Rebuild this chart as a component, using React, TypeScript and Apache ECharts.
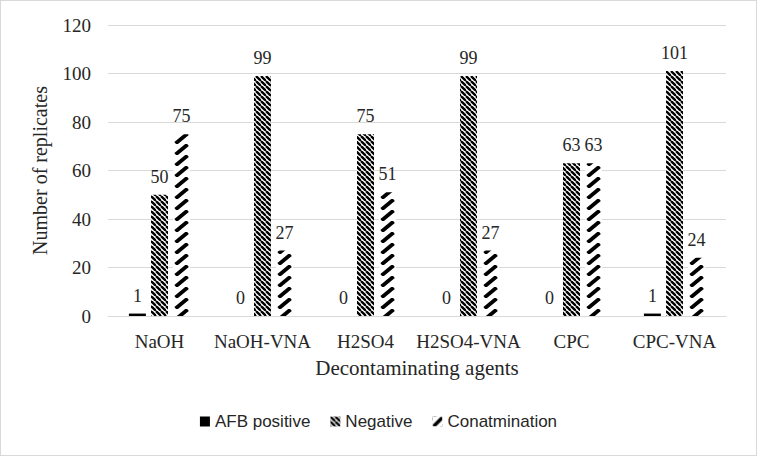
import React, { useEffect, useRef } from "react";
import * as echarts from "echarts";

const categories = ["NaOH", "NaOH-VNA", "H2SO4", "H2SO4-VNA", "CPC", "CPC-VNA"];
const afbPositive = [1, 0, 0, 0, 0, 1];
const negative = [50, 99, 75, 99, 63, 101];
const contamination = [75, 27, 51, 27, 63, 24];
const yTicks = [0, 20, 40, 60, 80, 100, 120];

const serif = "'Liberation Serif', 'Times New Roman', serif";
const sans = "'Liberation Sans', Arial, sans-serif";

const BAR_W = 17;
const BAR_GAP = 0.3;

function makeNegativeTile(): HTMLCanvasElement {
  const p = 5;
  const c = document.createElement("canvas");
  c.width = p;
  c.height = p;
  const ctx = c.getContext("2d")!;
  ctx.fillStyle = "#fff";
  ctx.fillRect(0, 0, p, p);
  ctx.strokeStyle = "#000";
  ctx.lineWidth = 2.3;
  for (let i = -1; i <= 1; i++) {
    ctx.beginPath();
    ctx.moveTo(i * p, 0);
    ctx.lineTo(i * p + p, p);
    ctx.stroke();
  }
  return c;
}

// tile as wide as one category step; the dash sits where the third bar falls
function makeContaminationTile(step: number, barLeft: number): HTMLCanvasElement {
  const w = Math.max(1, Math.round(step));
  const h = 11;
  const c = document.createElement("canvas");
  c.width = w;
  c.height = h;
  const ctx = c.getContext("2d")!;
  ctx.fillStyle = "#fff";
  ctx.fillRect(0, 0, w, h);
  ctx.strokeStyle = "#000";
  ctx.lineWidth = 3.8;
  ctx.lineCap = "butt";
  const L = ((barLeft % w) + w) % w;
  for (const shift of [-w, 0, w]) {
    ctx.beginPath();
    ctx.moveTo(L + shift + 2.5, 10.5);
    ctx.lineTo(L + shift + 14.5, 0.5);
    ctx.stroke();
  }
  return c;
}

function makeLegendContTile(): HTMLCanvasElement {
  const c = document.createElement("canvas");
  c.width = 10;
  c.height = 10;
  const ctx = c.getContext("2d")!;
  ctx.fillStyle = "#fff";
  ctx.fillRect(0, 0, 10, 10);
  ctx.strokeStyle = "#000";
  ctx.lineWidth = 3.5;
  ctx.beginPath();
  ctx.moveTo(1, 10);
  ctx.lineTo(10, 1);
  ctx.stroke();
  return c;
}

export default function App() {
  const ref = useRef<HTMLDivElement>(null);
  useEffect(() => {
    if (!ref.current) return;
    const chart = echarts.init(ref.current, undefined, { renderer: "svg" });
    const label = {
      show: true,
      position: "top" as const,
      distance: 9,
      fontFamily: serif,
      fontSize: 18,
      color: "#262626",
    };
    chart.setOption({
      animation: false,
      backgroundColor: "#fff",
      grid: { left: 107, right: 30, top: 24, bottom: 139 },
      legend: {
        bottom: 20,
        left: "center",
        icon: "rect",
        itemWidth: 10,
        itemHeight: 10,
        itemGap: 20,
        textStyle: { fontFamily: sans, fontSize: 17, color: "#262626" },
        data: ["AFB positive", "Negative", "Conatmination"],
      },
      xAxis: {
        type: "category",
        data: categories,
        name: "Decontaminating agents",
        nameLocation: "middle",
        nameGap: 41,
        nameTextStyle: { fontFamily: serif, fontSize: 21, color: "#262626" },
        axisLine: { lineStyle: { color: "#d9d9d9" } },
        axisTick: { show: false },
        axisLabel: {
          interval: 0,
          fontFamily: serif,
          fontSize: 19,
          color: "#262626",
          margin: 16,
        },
      },
      yAxis: {
        type: "value",
        min: yTicks[0],
        max: yTicks[yTicks.length - 1],
        interval: 20,
        name: "Number of replicates",
        nameLocation: "middle",
        nameGap: 58,
        nameTextStyle: { fontFamily: serif, fontSize: 20, color: "#262626" },
        axisLine: { show: false },
        axisTick: { show: false },
        splitLine: { lineStyle: { color: "#d9d9d9" } },
        axisLabel: { fontFamily: serif, fontSize: 19, color: "#262626", margin: 17 },
      },
      series: [
        {
          name: "AFB positive",
          type: "bar",
          data: afbPositive,
          barWidth: BAR_W,
          barGap: BAR_GAP * 100 + "%",
          itemStyle: { color: "#000" },
          label,
        },
        {
          name: "Negative",
          type: "bar",
          data: negative,
          barWidth: BAR_W,
          barGap: BAR_GAP * 100 + "%",
          itemStyle: {
            color: { image: makeNegativeTile(), repeat: "repeat" },
          },
          label,
        },
        {
          name: "Conatmination",
          type: "bar",
          data: contamination,
          barWidth: BAR_W,
          barGap: BAR_GAP * 100 + "%",
          itemStyle: {
            color: { image: makeLegendContTile(), repeat: "repeat" },
          },
          label,
        },
      ],
    });
    const c0 = chart.convertToPixel({ xAxisIndex: 0 }, categories[0]) as number;
    const c1 = chart.convertToPixel({ xAxisIndex: 0 }, categories[1]) as number;
    const step = c1 - c0;
    const thirdLeft = c0 + BAR_W / 2 + BAR_W * BAR_GAP;
    const contTile = makeContaminationTile(step, thirdLeft);
    chart.setOption({
      series: [
        {},
        {},
        {
          data: contamination.map((v) => ({
            value: v,
            itemStyle: { color: { image: contTile, repeat: "repeat" } },
          })),
        },
      ],
    });
    return () => chart.dispose();
  }, []);
  return (
    <div
      style={{
        position: "fixed",
        left: 0,
        top: 0,
        width: 757,
        height: 456,
        boxSizing: "border-box",
        border: "1px solid #d9d9d9",
      }}
    >
      <div ref={ref} style={{ width: 755, height: 454 }} />
    </div>
  );
}
